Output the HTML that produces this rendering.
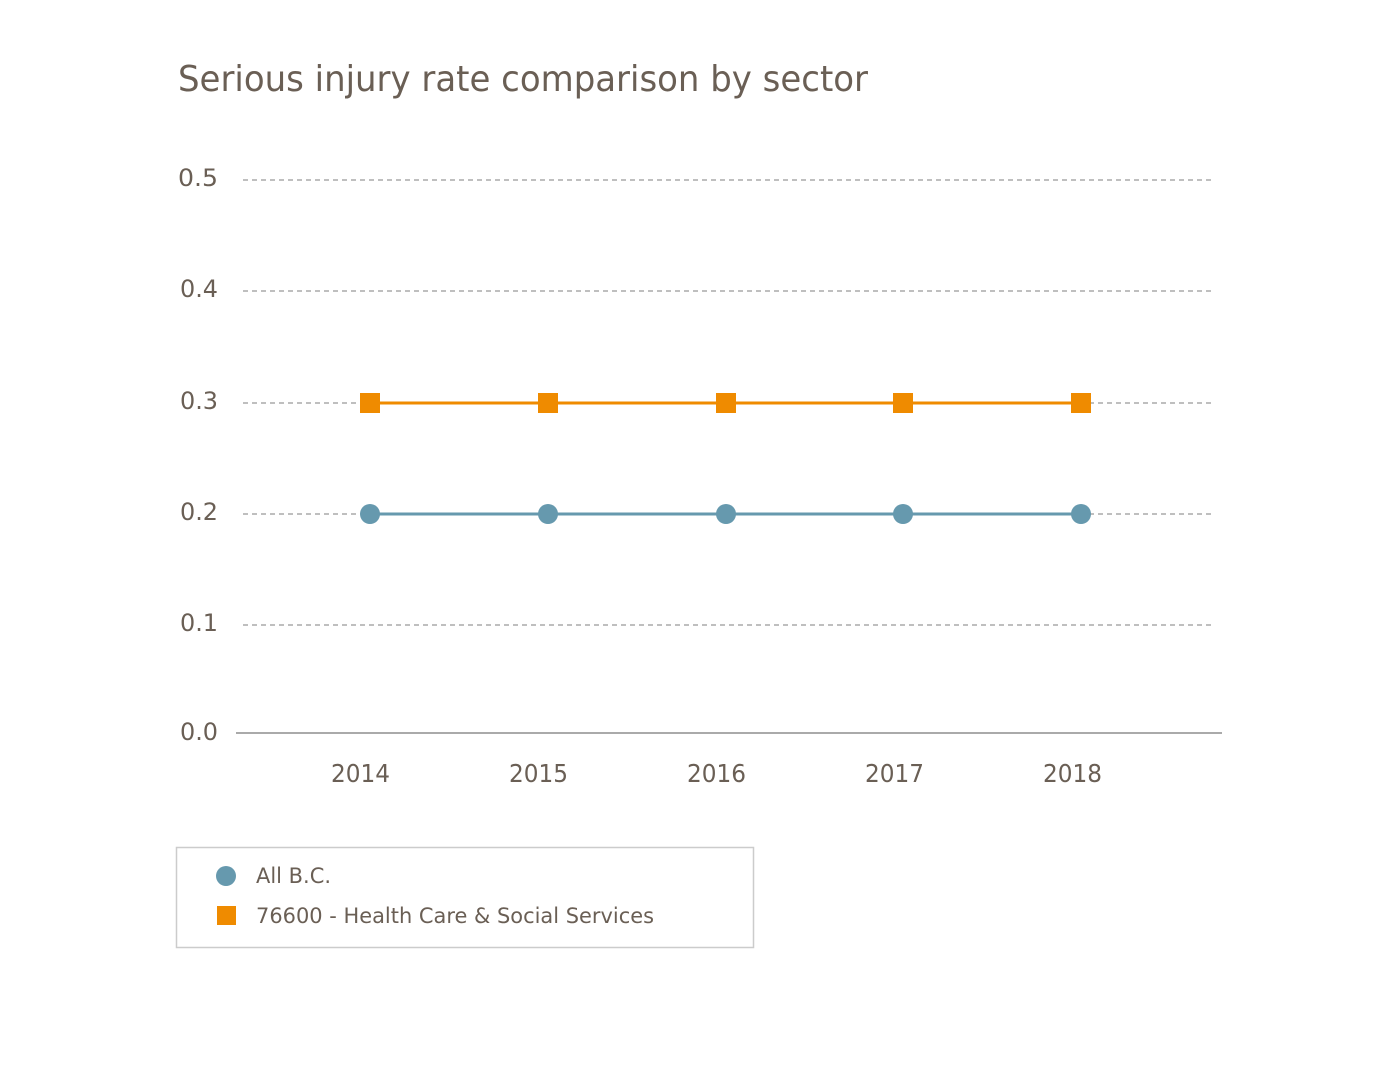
<!DOCTYPE html>
<html><head><meta charset="utf-8"><style>
html,body{margin:0;padding:0;background:#fff;}
svg{display:block;font-family:"DejaVu Sans","Liberation Sans",sans-serif;}
</style></head><body>
<svg width="1380" height="1088" viewBox="0 0 1380 1088" xmlns="http://www.w3.org/2000/svg">
<text x="178" y="91" font-size="36" fill="#6a5f55" textLength="690" lengthAdjust="spacingAndGlyphs">Serious injury rate comparison by sector</text>
<g stroke="#aaa" stroke-width="1.5" stroke-dasharray="5,4">
<line x1="243" y1="180" x2="1215" y2="180"/>
<line x1="243" y1="291" x2="1215" y2="291"/>
<line x1="243" y1="403" x2="1215" y2="403"/>
<line x1="243" y1="514" x2="1215" y2="514"/>
<line x1="243" y1="625" x2="1215" y2="625"/>
</g>
<line x1="236" y1="733" x2="1222" y2="733" stroke="#aaa" stroke-width="2"/>
<g font-size="24" fill="#6a5f55">
<text x="178" y="186" textLength="40" lengthAdjust="spacingAndGlyphs">0.5</text>
<text x="180" y="297" textLength="38" lengthAdjust="spacingAndGlyphs">0.4</text>
<text x="180" y="409" textLength="38" lengthAdjust="spacingAndGlyphs">0.3</text>
<text x="180" y="520" textLength="38" lengthAdjust="spacingAndGlyphs">0.2</text>
<text x="180" y="631" textLength="38" lengthAdjust="spacingAndGlyphs">0.1</text>
<text x="180" y="740" textLength="38" lengthAdjust="spacingAndGlyphs">0.0</text>
</g>
<g font-size="25" fill="#6a5f55">
<text x="331" y="782" textLength="59" lengthAdjust="spacingAndGlyphs">2014</text>
<text x="509" y="782" textLength="59" lengthAdjust="spacingAndGlyphs">2015</text>
<text x="687" y="782" textLength="59" lengthAdjust="spacingAndGlyphs">2016</text>
<text x="865" y="782" textLength="59" lengthAdjust="spacingAndGlyphs">2017</text>
<text x="1043" y="782" textLength="59" lengthAdjust="spacingAndGlyphs">2018</text>
</g>
<line x1="370" y1="403" x2="1081" y2="403" stroke="#ef8b00" stroke-width="3"/>
<g fill="#ef8b00">
<rect x="360" y="393" width="20" height="20"/>
<rect x="538" y="393" width="20" height="20"/>
<rect x="716" y="393" width="20" height="20"/>
<rect x="893" y="393" width="20" height="20"/>
<rect x="1071" y="393" width="20" height="20"/>
</g>
<line x1="370" y1="514" x2="1081" y2="514" stroke="#6699ae" stroke-width="3"/>
<g fill="#6699ae">
<circle cx="370" cy="514" r="10"/>
<circle cx="548" cy="514" r="10"/>
<circle cx="726" cy="514" r="10"/>
<circle cx="903" cy="514" r="10"/>
<circle cx="1081" cy="514" r="10"/>
</g>
<rect x="176.5" y="847.5" width="577" height="100" fill="#fff" stroke="#ccc" stroke-width="1.5"/>
<circle cx="226" cy="876" r="10" fill="#6699ae"/>
<rect x="217" y="906" width="19" height="19" fill="#ef8b00"/>
<g font-size="21" fill="#6a5f55">
<text x="256" y="883" textLength="75" lengthAdjust="spacingAndGlyphs">All B.C.</text>
<text x="256" y="923" textLength="398" lengthAdjust="spacingAndGlyphs">76600 - Health Care &amp; Social Services</text>
</g>
</svg>
</body></html>
